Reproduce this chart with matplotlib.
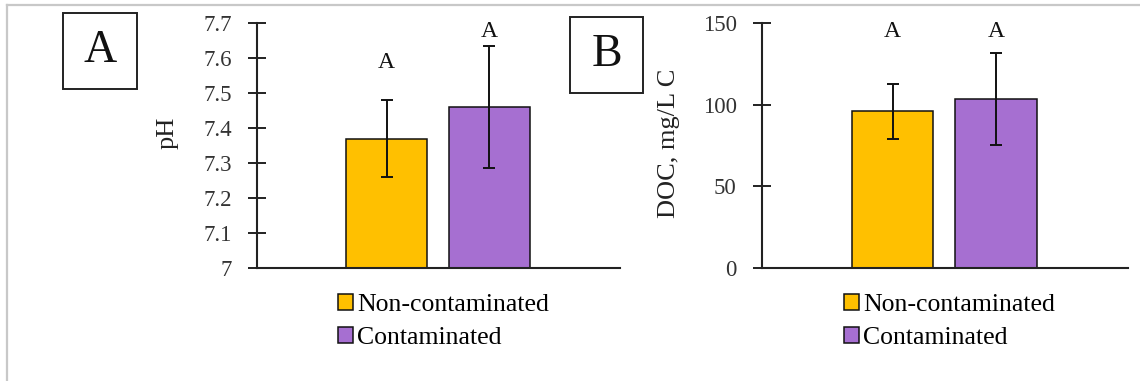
import numpy as np
import matplotlib.pyplot as plt
from matplotlib.patches import Rectangle
from matplotlib.lines import Line2D

plt.rcParams['font.family'] = ['Liberation Serif', 'DejaVu Serif']

# data
series = ['Non-contaminated', 'Contaminated']
colors = ['#FFC000', '#A66FD1']

ph_means = [7.37, 7.46]
ph_err = [0.11, 0.174]
ph_letters = ['A', 'A']
ph_letter_y = [7.586, 7.677]
ph_ticks = [7, 7.1, 7.2, 7.3, 7.4, 7.5, 7.6, 7.7]
ph_ticklabels = ['7', '7.1', '7.2', '7.3', '7.4', '7.5', '7.6', '7.7']

doc_means = [96, 103.5]
doc_err = [16.9, 27.9]
doc_letters = ['A', 'A']
doc_letter_y = [145, 145]
doc_ticks = [0, 50, 100, 150]

W, H = 1140, 381
fig = plt.figure(figsize=(W / 100, H / 100), dpi=100)

def px_axes(x0, x1, y0, y1):
    return fig.add_axes([x0 / W, 1 - y1 / H, (x1 - x0) / W, (y1 - y0) / H])

axA = px_axes(257, 620, 23, 268)
axB = px_axes(762, 1128, 23, 268)

xpos = np.array([-0.2, 0.2])
width = 0.315
axcol = '#222222'

def draw(ax, means, err, letters, letter_y, ylim, ticks, ticklabels, xlim, ylabel):
    ax.bar(xpos, means, width, color=colors, edgecolor='#111111', linewidth=1.1, zorder=2)
    ax.errorbar(xpos, means, yerr=err, fmt='none', ecolor='#111111', elinewidth=1.4,
                capsize=4.5, capthick=1.4, zorder=3)
    for x, t, y in zip(xpos, letters, letter_y):
        ax.text(x, y, t, ha='center', va='center', fontsize=17, color='#111111')
    ax.set_ylim(ylim)
    ax.set_xlim(xlim)
    ax.set_yticks(ticks)
    ax.set_yticklabels(ticklabels, fontsize=16.5, color='#333333')
    ax.set_xticks([])
    for s in ['top', 'right']:
        ax.spines[s].set_visible(False)
    for s in ['left', 'bottom']:
        ax.spines[s].set_color(axcol)
        ax.spines[s].set_linewidth(1.5)
    ax.tick_params(axis='y', direction='inout', length=12.5, width=1.4, color=axcol, pad=12)
    ax.set_ylabel(ylabel, fontsize=19, color='#222222', va='center')
    ax.patch.set_visible(False)

draw(axA, ph_means, ph_err, ph_letters, ph_letter_y, (7, 7.7), ph_ticks, ph_ticklabels,
     (-0.705, 0.71), 'pH')
draw(axB, doc_means, doc_err, doc_letters, doc_letter_y, (0, 150), doc_ticks,
     [str(t) for t in doc_ticks], (-0.705, 0.71), 'DOC, mg/L C')
axA.yaxis.set_label_coords((168 - 257) / (620 - 257), (268 - 133) / 245)
axB.yaxis.set_label_coords((669 - 762) / (1128 - 762), (268 - 143) / 245)

# legends
for lx in [338, 844]:
    handles = [Rectangle((0, 0), 1, 1, facecolor=c, edgecolor='#111111', linewidth=1.1) for c in colors]
    fig.legend(handles, series, loc='upper left', bbox_to_anchor=(lx / W, 1 - 294 / H),
               frameon=False, fontsize=18.5, handlelength=0.58, handleheight=0.58,
               handletextpad=0.16, labelspacing=0.42, borderpad=0, borderaxespad=0)

# panel label boxes
for (x0, x1, y0, y1, t) in [(63, 137, 13, 89, 'A'), (570, 643, 17, 93, 'B')]:
    fig.patches.append(Rectangle((x0 / W, 1 - y1 / H), (x1 - x0) / W, (y1 - y0) / H,
                                 transform=fig.transFigure, fill=False,
                                 edgecolor='#222222', linewidth=1.4))
    fig.text((x0 + x1) / 2 / W, 1 - (y0 + y1) / 2 / H, t, ha='center', va='center',
             fontsize=33, color='#111111')

# outer frame
fig.add_artist(Line2D([7 / W, 1], [1 - 5 / H, 1 - 5 / H], color='#c8c8c8', linewidth=1.6))
fig.add_artist(Line2D([7 / W, 7 / W], [0, 1 - 5 / H], color='#c8c8c8', linewidth=1.6))

plt.savefig('out.png', dpi=100)
